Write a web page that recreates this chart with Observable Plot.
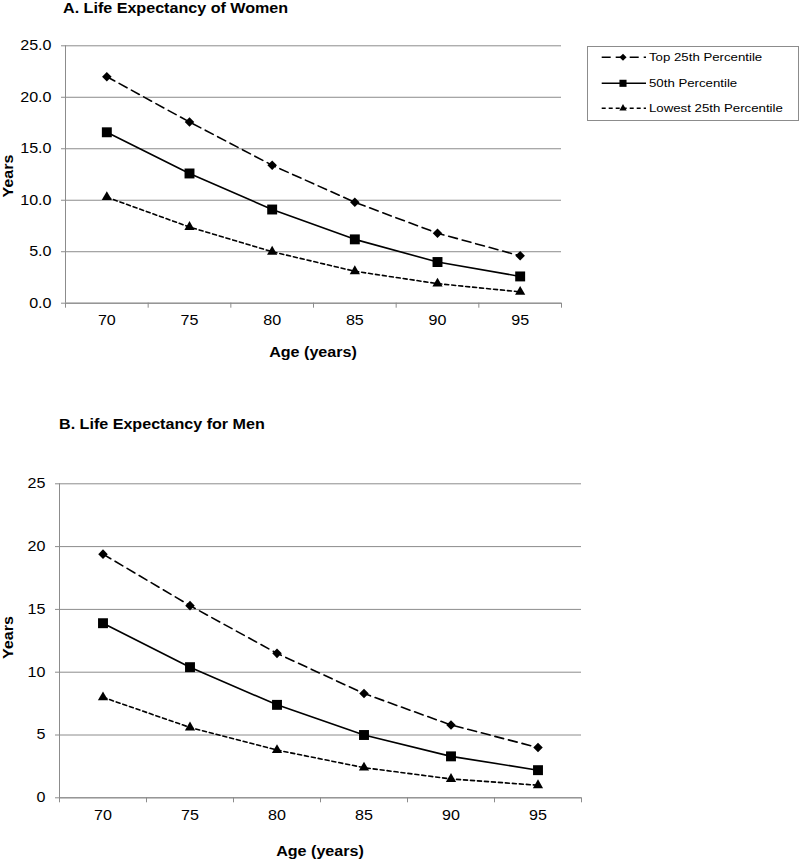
<!DOCTYPE html>
<html><head><meta charset="utf-8">
<script src="https://cdn.jsdelivr.net/npm/d3@7"></script>
<script src="https://cdn.jsdelivr.net/npm/@observablehq/plot@0.6"></script>
<style>
body{margin:0;background:#fff;}
#root{position:relative;width:800px;height:860px;overflow:hidden;font-family:"Liberation Sans",Arial,sans-serif;}
#root svg{position:absolute;left:0;overflow:visible;}
</style></head><body><div id="root"></div>
<script>
// ---- data ----
const ages = [70, 75, 80, 85, 90, 95];
const seriesNames = ["Top 25th Percentile", "50th Percentile", "Lowest 25th Percentile"];
const womenTop = [22.0, 17.6, 13.4, 9.8, 6.8, 4.6];
const womenMid = [16.6, 12.6, 9.1, 6.2, 4.0, 2.6];
const womenLow = [10.3, 7.4, 5.0, 3.1, 1.9, 1.1];
const menTop = [19.4, 15.3, 11.5, 8.3, 5.8, 4.0];
const menMid = [13.9, 10.4, 7.4, 5.0, 3.3, 2.2];
const menLow = [8.0, 5.6, 3.8, 2.4, 1.5, 1.0];
const yTicks = [0, 5, 10, 15, 20, 25];
const titleA = "A. Life Expectancy of Women";
const titleB = "B. Life Expectancy for Men";
const yLabel = "Years";
const xLabel = "Age (years)";

// ---- styles ----
const GRAY = "#8c8c8c";
const seriesStyle = {
  "Top 25th Percentile": {dash: "9,5", symbol: "diamond2", r: 4.3, lr: 3.2},
  "50th Percentile": {dash: null, symbol: "square", r: 5.6, lr: 4.0},
  "Lowest 25th Percentile": {dash: "4,3", symbol: "triangle", r: 3.8, lr: 2.7}
};
const STRETCH = 1.15;

function toRows(series) {
  return series.flatMap((vals, i) => ages.map((a, j) => ({age: a, value: vals[j], series: seriesNames[i]})));
}
const half = (ages[1] - ages[0]) / 2;
const edges = [...ages.map(a => a - half), ages[ages.length - 1] + half];

const root = document.getElementById("root");

function makeChart(cfg) {
  const rows = toRows(cfg.series);
  const marks = [
    Plot.gridY(yTicks, {stroke: GRAY, strokeOpacity: 1, strokeWidth: 1}),
    Plot.ruleX([edges[0]], {stroke: GRAY, strokeWidth: 1}),
    Plot.ruleY([0], {stroke: GRAY, strokeWidth: 1}),
    Plot.axisY(yTicks, {tickFormat: cfg.yFormat, tickSize: 4, tickPadding: 10, stroke: GRAY, fill: "#000", label: null}),
    Plot.axisX(edges, {tickSize: 5, tickFormat: () => "", stroke: GRAY, label: null}),
    Plot.axisX(ages, {tickSize: 0, tickPadding: 12, fill: "#000", label: null}),
  ];
  for (const name of seriesNames) {
    const st = seriesStyle[name];
    const d = rows.filter(r => r.series === name);
    marks.push(Plot.line(d, {x: "age", y: "value", stroke: "#000", strokeWidth: 1.6, strokeDasharray: st.dash || undefined}));
    marks.push(Plot.dot(d, {x: "age", y: "value", symbol: st.symbol, r: st.r, fill: "#000", stroke: "none"}));
  }
  const svg = Plot.plot({
    width: 800, height: cfg.height,
    marginLeft: cfg.ml, marginRight: cfg.mr, marginTop: cfg.mt, marginBottom: cfg.mb,
    x: {domain: [edges[0], edges[edges.length - 1]]},
    y: {domain: [0, 25]},
    style: {fontFamily: '"Liberation Sans", Arial, sans-serif', fontSize: "14px", color: "#000", background: "transparent", overflow: "visible"},
    marks
  });
  svg.style.top = cfg.top + "px";
  const s = d3.select(svg);
  const fw = {"font-weight": "bold", "font-size": "14px", "fill": "#000"};
  const t1 = s.append("text").attr("x", cfg.titleX).attr("y", cfg.titleY).attr("text-anchor", "start").text(cfg.title);
  const t2 = s.append("text").attr("transform", `translate(13,${cfg.yLabelY}) rotate(-90)`).attr("text-anchor", "middle").text(yLabel);
  const t3 = s.append("text").attr("x", cfg.xLabelX).attr("y", cfg.xLabelY).attr("text-anchor", "middle").text(xLabel);
  for (const t of [t1, t2, t3]) for (const k in fw) t.attr(k, fw[k]);
  root.appendChild(svg);
  return svg;
}

const svgA = makeChart({
  series: [womenTop, womenMid, womenLow], yFormat: d3.format(".1f"),
  top: 0, height: 370, ml: 65, mr: 239, mt: 45.3, mb: 370 - 302.7,
  title: titleA, titleX: 63, titleY: 13,
  yLabelY: 176, xLabelX: 313, xLabelY: 357
});
const svgB = makeChart({
  series: [menTop, menMid, menLow], yFormat: d3.format("d"),
  top: 370, height: 490, ml: 59, mr: 219, mt: 113.3, mb: 490 - 427.3,
  title: titleB, titleX: 59, titleY: 59,
  yLabelY: 267.5, xLabelX: 320, xLabelY: 486
});

// ---- legend ----
const leg = d3.create("svg").attr("width", 220).attr("height", 90)
  .style("top", "40px").style("left", "580px");
leg.append("rect").attr("x", 7.5).attr("y", 6.5).attr("width", 211).attr("height", 74)
  .attr("fill", "#fff").attr("stroke", GRAY).attr("stroke-width", 1);
const symMap = {diamond2: d3.symbolDiamond2, square: d3.symbolSquare, triangle: d3.symbolTriangle};
const rowY = [17.3, 43.3, 68.3];
seriesNames.forEach((name, i) => {
  const st = seriesStyle[name];
  const y = rowY[i];
  const l = leg.append("line").attr("x1", 21.7).attr("x2", 66).attr("y1", y).attr("y2", y)
    .attr("stroke", "#000").attr("stroke-width", 1.5);
  if (st.dash) l.attr("stroke-dasharray", st.dash);
  leg.append("path").attr("transform", `translate(43,${y})`)
    .attr("d", d3.symbol(symMap[st.symbol], Math.PI * st.lr * st.lr)()).attr("fill", "#000");
  leg.append("text").attr("x", 69).attr("y", y).attr("dy", "0.36em").attr("text-anchor", "start")
    .attr("font-size", "11.5px").attr("font-family", '"Liberation Sans", Arial, sans-serif').attr("fill", "#000").text(name);
});
root.appendChild(leg.node());

// horizontal stretch of text to match reference glyph proportions
for (const svg of [svgA, svgB, leg.node()]) {
  d3.select(svg).selectAll("text").each(function() {
    const w = this.getComputedTextLength();
    if (w > 0) {
      this.setAttribute("textLength", (w * STRETCH).toFixed(2));
      this.setAttribute("lengthAdjust", "spacingAndGlyphs");
    }
  });
}
</script></body></html>
